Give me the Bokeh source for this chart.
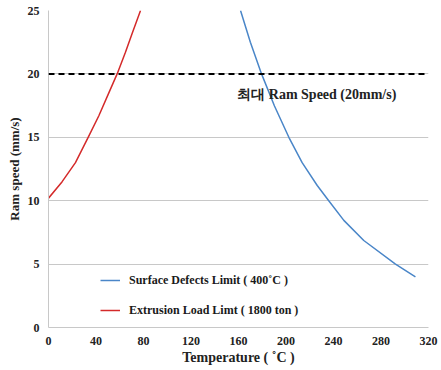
from bokeh.plotting import figure
from bokeh.models import Span, Label, Legend, LegendItem, FixedTicker
from bokeh.embed import file_html
from bokeh.resources import INLINE

# Data
load_temp = [0, 11.5, 22.7, 33.4, 42.4, 50.8, 57.8, 64.8, 70.5, 77.5]
load_speed = [10.2, 11.5, 13.0, 15.0, 16.7, 18.5, 20, 21.7, 23.2, 25]

defect_temp = [161.7, 170, 179.4, 190.3, 202.4, 213.6, 226.3, 236, 248.7, 265.5, 292.2, 309]
defect_speed = [25, 22.5, 20, 17.47, 15, 13.0, 11.2, 10, 8.45, 6.86, 5, 4.0]

max_speed = 20
x_ticks = [0, 40, 80, 120, 160, 200, 240, 280, 320]
y_ticks = [0, 5, 10, 15, 20, 25]

FONT = "Liberation Serif"

p = figure(width=441, height=370, output_backend="svg", toolbar_location=None,
           x_range=(0, 320), y_range=(0, 25),
           min_border_left=48, min_border_right=13, min_border_top=10, min_border_bottom=43)
p.outline_line_color = None
p.background_fill_color = "white"

p.xgrid.grid_line_color = None
p.ygrid.grid_line_color = "#C8C8C8"
p.ygrid.grid_line_width = 1

for ax in (p.xaxis[0], p.yaxis[0]):
    ax.axis_line_color = "#C8C8C8"
    ax.major_tick_line_color = None
    ax.minor_tick_line_color = None
    ax.major_tick_out = 0
    ax.minor_tick_out = 0
    ax.major_tick_in = 0
    ax.minor_tick_in = 0
    ax.major_label_text_font = FONT
    ax.major_label_text_font_style = "bold"
    ax.major_label_text_font_size = "12px"
    ax.major_label_text_color = "#222222"
    ax.axis_label_text_font = FONT
    ax.axis_label_text_font_style = "bold"
    ax.axis_label_text_color = "#222222"

p.xaxis.axis_label_text_font_size = "14px"
p.yaxis.axis_label_text_font_size = "13px"
p.xaxis.ticker = FixedTicker(ticks=x_ticks)
p.yaxis.ticker = FixedTicker(ticks=y_ticks)
p.xaxis.axis_label = "Temperature ( ˚C )"
p.yaxis.axis_label = "Ram speed (mm/s)"
p.xaxis.major_label_standoff = 9
p.yaxis.major_label_standoff = 9
p.xaxis.axis_label_standoff = 2
p.yaxis.axis_label_standoff = 3

p.add_layout(Span(location=max_speed, dimension="width", line_color="black",
                  line_width=2, line_dash="6 4"))

r_def = p.line(defect_temp, defect_speed, line_color="#4A86C8", line_width=1.5)
r_load = p.line(load_temp, load_speed, line_color="#D42A2A", line_width=1.5)

p.add_layout(Label(x=159, y=18.4, text="최대 Ram Speed (20mm/s)", text_font=FONT,
                   text_font_style="bold", text_font_size="14px", text_color="#222222",
                   text_baseline="middle"))

legend = Legend(items=[LegendItem(label="Surface Defects Limit ( 400˚C )", renderers=[r_def]),
                       LegendItem(label="Extrusion Load Limt ( 1800 ton )", renderers=[r_load])],
                location=(52, 7), padding=0, margin=0, spacing=10,
                glyph_width=20, label_standoff=9,
                border_line_color=None, background_fill_alpha=0,
                label_text_font=FONT, label_text_font_style="bold",
                label_text_font_size="12px", label_text_color="#1a1a1a")
p.add_layout(legend)

open("out.html", "w").write(file_html(p, INLINE))
